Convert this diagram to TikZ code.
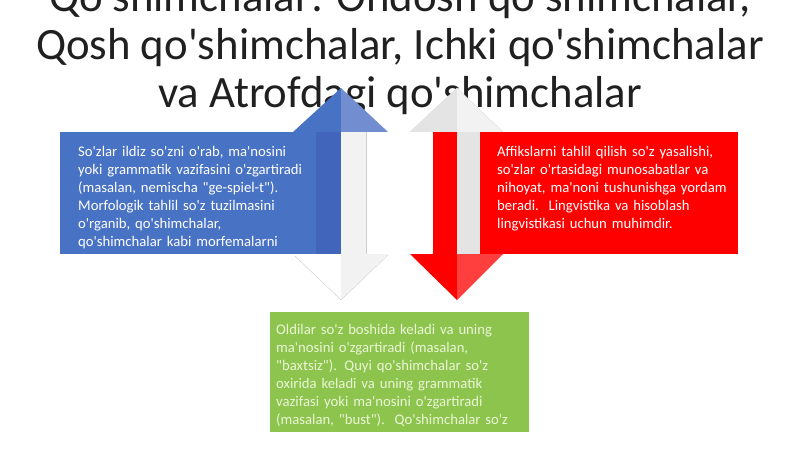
\documentclass[tikz,border=0pt]{standalone}
\usepackage{fontspec}
\setmainfont{Carlito}[Ligatures=TeXOff]
\usetikzlibrary{positioning}

\definecolor{boxblue}{RGB}{72,114,196}
\definecolor{shaftblue}{RGB}{64,101,186}
\definecolor{headblue}{RGB}{114,142,208}
\definecolor{boxred}{RGB}{255,0,0}
\definecolor{headred}{RGB}{255,62,62}
\definecolor{boxgreen}{RGB}{141,196,78}
\definecolor{greentext}{RGB}{234,246,214}
\definecolor{titlegray}{RGB}{32,32,32}
\definecolor{ribbon}{RGB}{242,242,242}
\definecolor{ribbondark}{RGB}{228,228,228}
\definecolor{ribbonedge}{RGB}{205,205,205}

\begin{document}
\begin{tikzpicture}[x=1pt,y=-1pt,
    panel/.style={anchor=north west, inner sep=0pt, minimum height=#1},
    bodytext/.style={inner sep=0pt, text width=#1, align=left, text=white,
        font=\fontsize{14.7}{18}\selectfont}]
\useasboundingbox (0,0) rectangle (800,449);

% title, partly hidden by the arrow heads
\node[font=\fontsize{44.8}{48}\selectfont, text=titlegray, align=center, anchor=base] (title) at (400,108)
    {Qo'shimchalar: Ondosh qo'shimchalar,\\Qosh qo'shimchalar, Ichki qo'shimchalar\\va Atrofdagi qo'shimchalar};

% coloured panels
\node[panel=122pt, fill=boxblue, minimum width=280pt] (bluebox) at (60,132) {};
\node[panel=122pt, fill=boxred, minimum width=258pt] (redbox) at (480,132) {};
\node[panel=120pt, fill=boxgreen, minimum width=259pt] (greenbox) at (270,312) {};

% up arrow (blue)
\fill[boxblue] (293,132) -- (341,88) -- (341,132) -- cycle;
\fill[headblue] (341,88) -- (388,132) -- (341,132) -- cycle;
\fill[shaftblue] (316,132) rectangle (341,254);
\fill[ribbon] (341,132) rectangle (366,254);
\draw[ribbonedge] (366,132) -- (366,254);
\fill[white] (293,254) -- (341,300) -- (341,254) -- cycle;
\fill[ribbon] (341,254) -- (341,300) -- (388,254) -- cycle;
\draw[ribbonedge] (295,256) -- (341,300) -- (388,255);

% down arrow (red)
\fill[ribbondark] (410,132) -- (457,88) -- (457,132) -- cycle;
\fill[ribbon] (457,88) -- (503,132) -- (457,132) -- cycle;
\draw[ribbonedge!70] (410,132) -- (457,88) -- (503,132);
\fill[boxred] (433,132) rectangle (457,254);
\fill[ribbondark] (457,132) rectangle (480,254);
\fill[boxred] (410,254) -- (457,300) -- (457,254) -- cycle;
\fill[headred] (457,254) -- (457,300) -- (503,254) -- cycle;

% panel texts
\node[bodytext=250pt, below right=14pt and 18pt of bluebox.north west] (bluetext)
    {So'zlar ildiz so'zni o'rab, ma'nosini\\yoki grammatik vazifasini o'zgartiradi\\(masalan, nemischa "ge-spiel-t").\\Morfologik tahlil so'z tuzilmasini\\o'rganib, qo'shimchalar,\\qo'shimchalar kabi morfemalarni};
\node[bodytext=240pt, below right=14pt and 17pt of redbox.north west] (redtext)
    {Affikslarni tahlil qilish so'z yasalishi,\\so'zlar o'rtasidagi munosabatlar va\\nihoyat, ma'noni tushunishga yordam\\beradi.\ \ Lingvistika va hisoblash\\lingvistikasi uchun muhimdir.};
\node[bodytext=250pt, text=greentext, below right=12pt and 6pt of greenbox.north west] (greentext)
    {Oldilar so'z boshida keladi va uning\\ma'nosini o'zgartiradi (masalan,\\"baxtsiz"). Quyi qo'shimchalar so'z\\oxirida keladi va uning grammatik\\vazifasi yoki ma'nosini o'zgartiradi\\(masalan, "bust").\ \ Qo'shimchalar so'z};
\end{tikzpicture}
\end{document}
